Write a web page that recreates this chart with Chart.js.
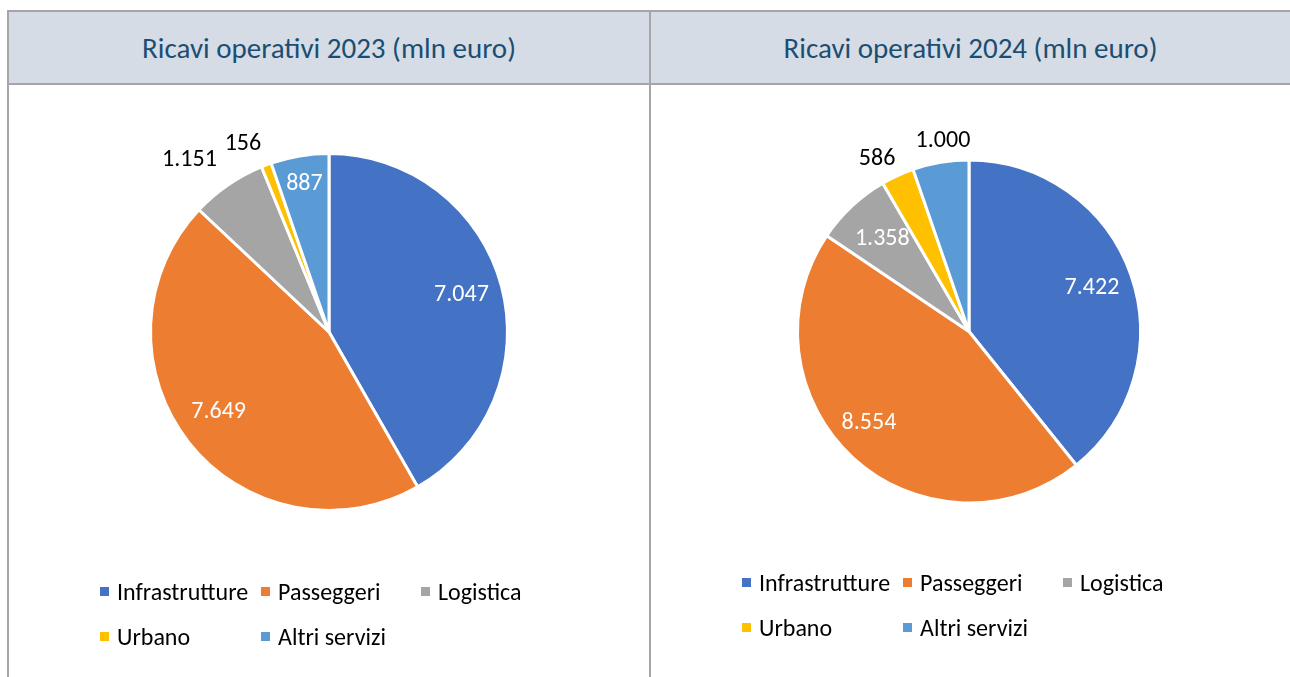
<!DOCTYPE html>
<html lang="it">
<head>
<meta charset="UTF-8">
<title>Ricavi operativi</title>
<script src="https://cdn.jsdelivr.net/npm/chart.js"></script>
<style>
    body {
        margin: 0;
        background: #ffffff;
        font-family: Calibri, Carlito, "Open Sans", sans-serif;
        width: 1290px;
        height: 677px;
        overflow: hidden;
        position: relative;
    }
    .line { position: absolute; background: #a6a6a6; }
    .head {
        position: absolute;
        top: 12px;
        height: 71px;
        background: #d6dce5;
        color: #1a4e72;
        font-size: 29px;
        display: flex;
        align-items: center;
        justify-content: center;
    }
    .panel { position: absolute; top: 86px; height: 591px; }
    .legend {
        position: absolute;
        display: grid;
        grid-template-columns: 161px 160px 160px;
        row-gap: 17px;
        font-size: 24px;
        color: #000;
    }
    .legend div { display: flex; align-items: center; height: 28px; white-space: nowrap; }
    .legend span.box { width: 9px; height: 9px; margin-right: 8px; display: inline-block; flex: none; }
</style>
</head>
<body>
<div class="line" style="left:8px;top:10px;width:1282px;height:2px"></div>
<div class="line" style="left:8px;top:83px;width:1282px;height:2px"></div>
<div class="line" style="left:7px;top:10px;width:2px;height:667px"></div>
<div class="line" style="left:649px;top:10px;width:2px;height:667px"></div>

<div class="head" style="left:9px;width:640px">Ricavi operativi 2023 (mln euro)</div>
<div class="head" style="left:651px;width:639px">Ricavi operativi 2024 (mln euro)</div>

<div class="panel" style="left:10px;width:639px"><canvas id="pie2023"></canvas></div>
<div class="panel" style="left:652px;width:638px"><canvas id="pie2024"></canvas></div>

<div class="legend" id="legend2023" style="left:100px;top:577px"></div>
<div class="legend" id="legend2024" style="left:742px;top:568px"></div>

<script>
const categories = ["Infrastrutture", "Passeggeri", "Logistica", "Urbano", "Altri servizi"];
const values2023 = [7047, 7649, 1151, 156, 887];
const values2024 = [7422, 8554, 1358, 586, 1000];
const colors = ["#4472c4", "#ed7d31", "#a5a5a5", "#ffc000", "#5b9bd5"];

function fmt(v) {
    return String(v).replace(/\B(?=(\d{3})+(?!\d))/g, ".");
}

// draws value labels along each slice's middle angle
const sliceLabels = {
    id: 'sliceLabels',
    afterDatasetsDraw(chart, args, opts) {
        const ctx = chart.ctx;
        const meta = chart.getDatasetMeta(0);
        ctx.save();
        ctx.font = '24px Calibri, Carlito, "Open Sans", sans-serif';
        ctx.textAlign = 'center';
        ctx.textBaseline = 'middle';
        meta.data.forEach((arc, i) => {
            const p = arc.getProps(['x', 'y', 'startAngle', 'endAngle', 'outerRadius'], true);
            const a = (p.startAngle + p.endAngle) / 2 + (opts.shift[i] || 0);
            const r = p.outerRadius * opts.dist[i];
            ctx.fillStyle = opts.dist[i] > 1 ? '#000000' : '#ffffff';
            ctx.fillText(fmt(chart.data.datasets[0].data[i]), p.x + Math.cos(a) * r, p.y + Math.sin(a) * r);
        });
        ctx.restore();
    }
};

function makePie(id, values, padding, dist, shift) {
    const canvas = document.getElementById(id);
    const box = canvas.parentElement;
    canvas.width = box.clientWidth;
    canvas.height = box.clientHeight;
    return new Chart(canvas, {
        type: 'pie',
        data: {
            labels: categories,
            datasets: [{
                data: values,
                backgroundColor: colors,
                borderColor: '#ffffff',
                borderWidth: 3,
                hoverOffset: 0
            }]
        },
        options: {
            responsive: false,
            animation: false,
            events: [],
            layout: { padding: padding },
            plugins: {
                legend: { display: false },
                tooltip: { enabled: false },
                sliceLabels: { dist: dist, shift: shift }
            }
        },
        plugins: [sliceLabels]
    });
}

function makeLegend(id) {
    const el = document.getElementById(id);
    categories.forEach((c, i) => {
        const d = document.createElement('div');
        d.innerHTML = '<span class="box" style="background:' + colors[i] + '"></span>' + c;
        el.appendChild(d);
    });
}

makePie('pie2023', values2023,
    { left: 139, right: 140, top: 66, bottom: 165 },
    [0.77, 0.765, 1.24, 1.16, 0.84],
    [-0.01, 0.038, -0.08, -0.07, 0]);
makePie('pie2024', values2024,
    { left: 144, right: 148, top: 72, bottom: 172 },
    [0.76, 0.79, 0.74, 1.14, 1.12],
    [0, 0.087, 0, -0.06, 0.03]);

makeLegend('legend2023');
makeLegend('legend2024');
</script>
</body>
</html>
